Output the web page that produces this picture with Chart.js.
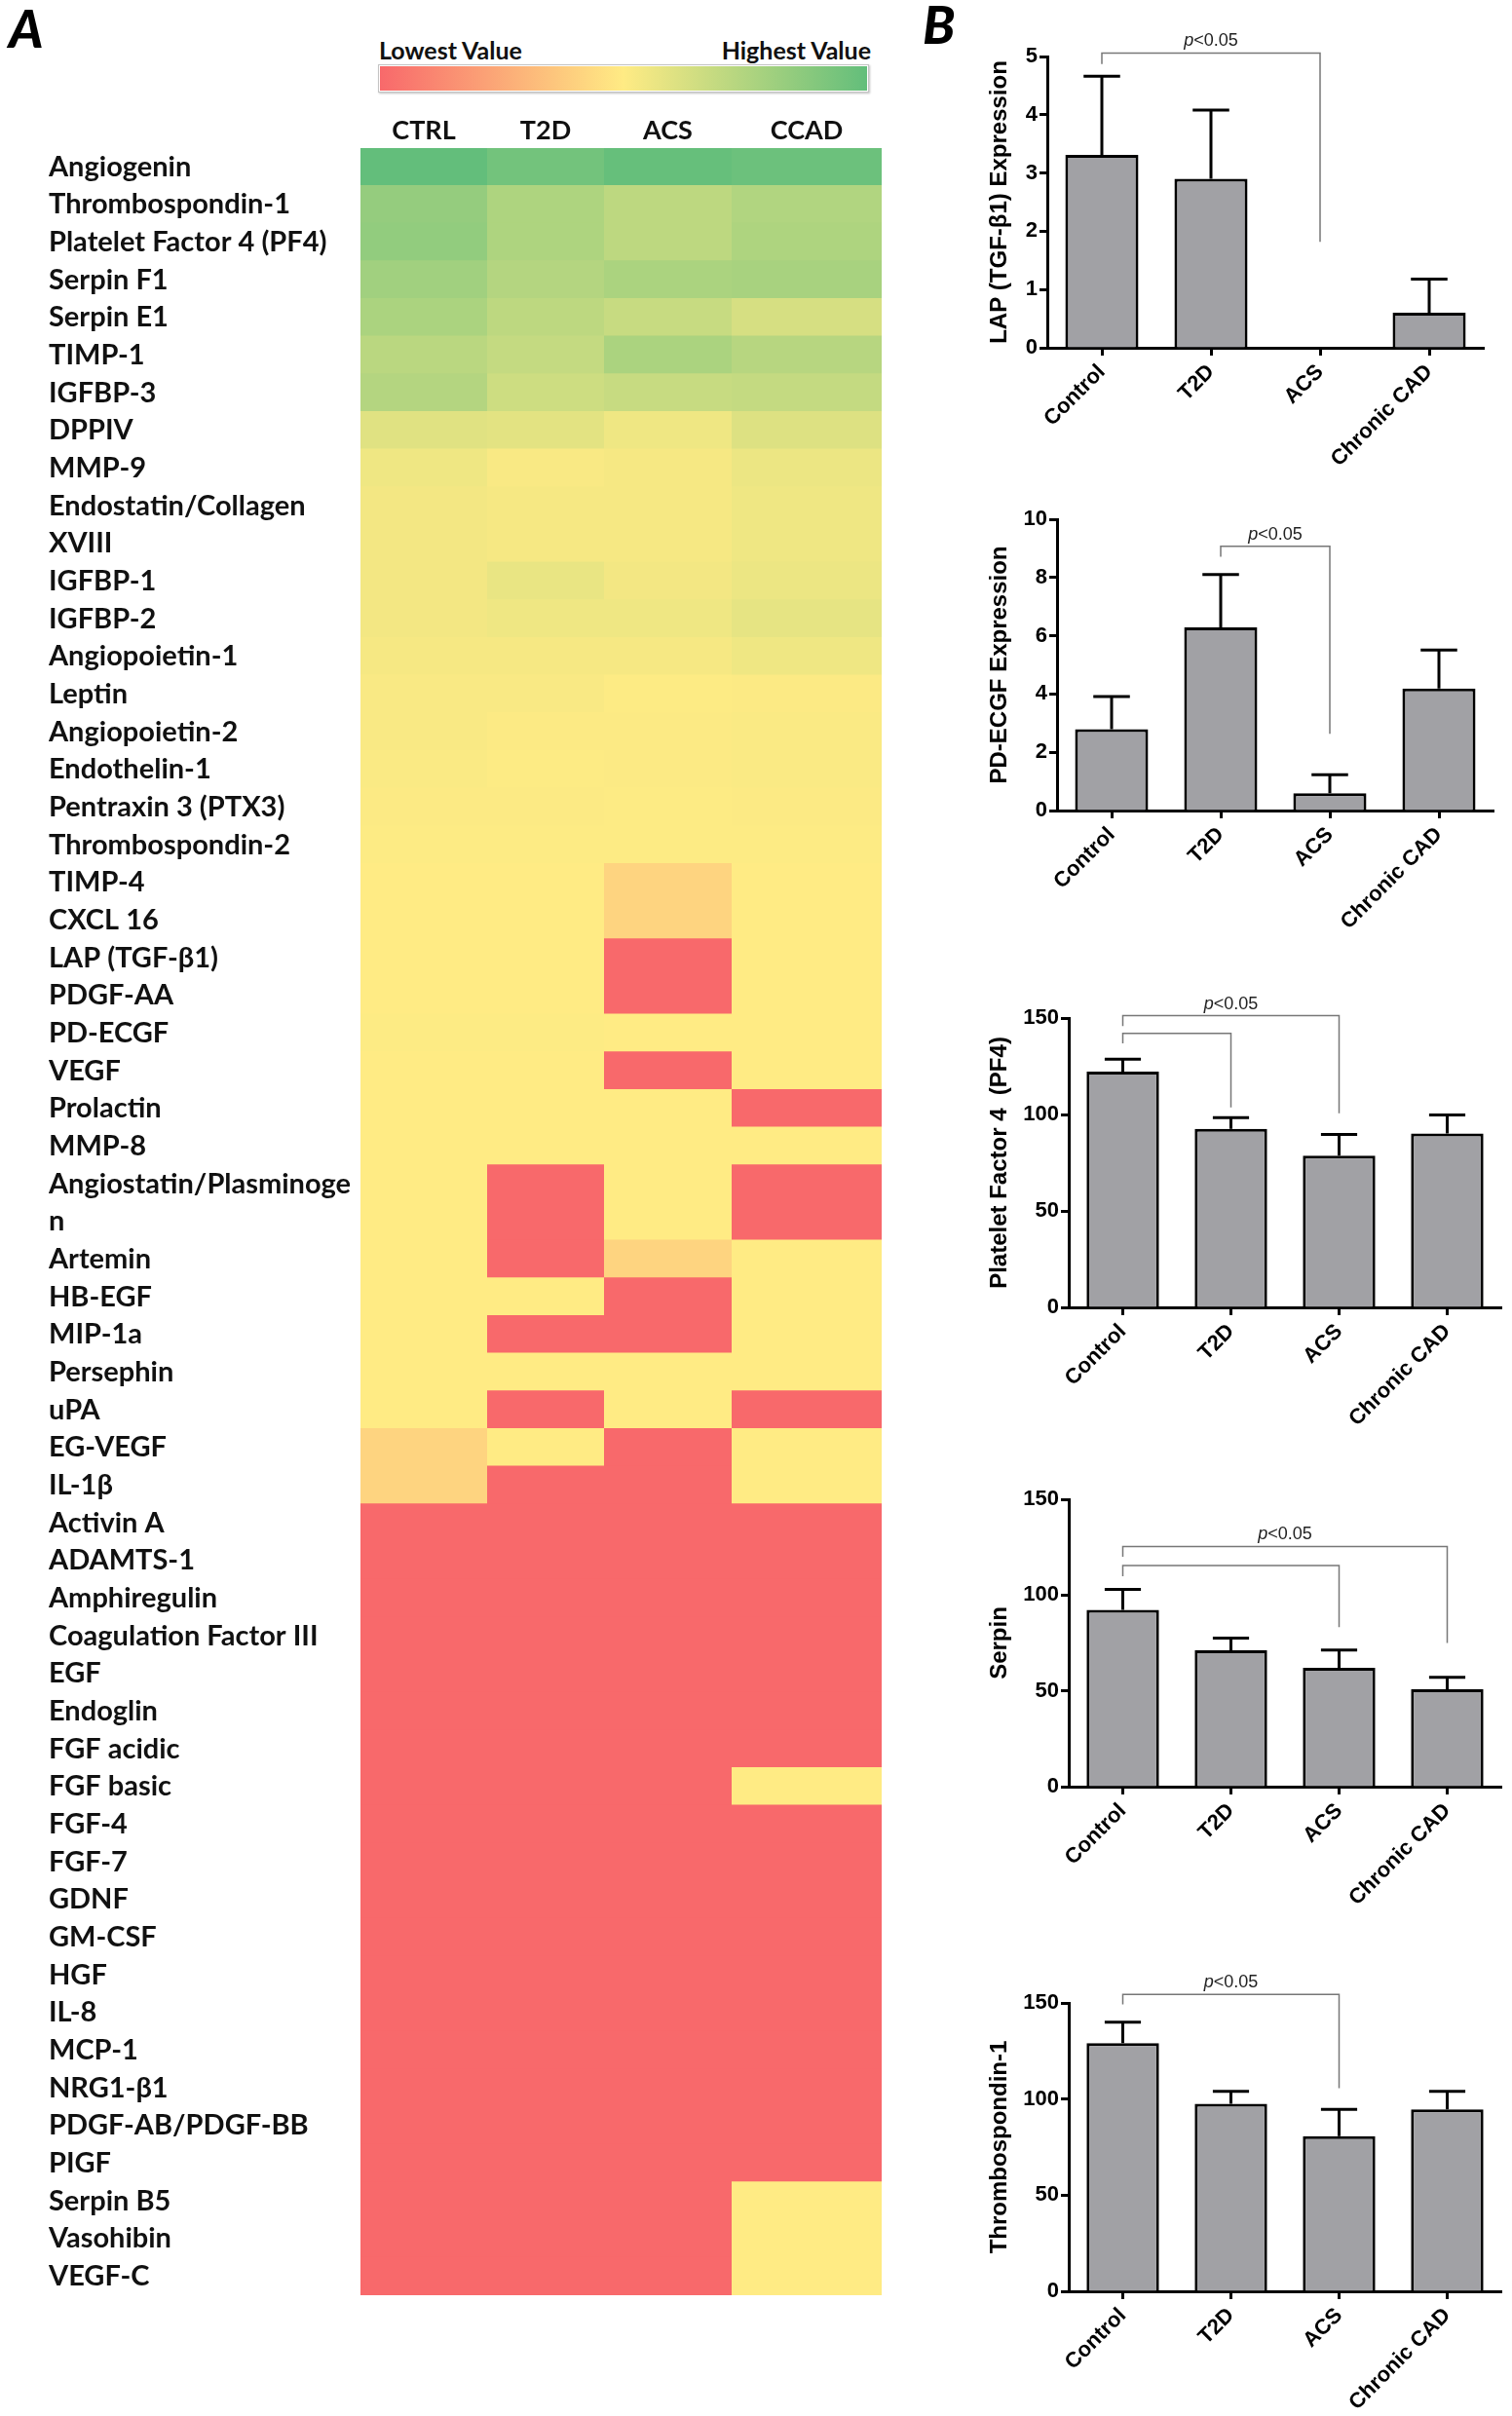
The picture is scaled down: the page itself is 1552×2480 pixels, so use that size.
<!DOCTYPE html>
<html>
<head>
<meta charset="utf-8">
<script src="https://cdn.jsdelivr.net/npm/chart.js@4.4.1/dist/chart.umd.min.js"></script>
<style>
  html, body { margin: 0; padding: 0; background: #fff; }
  body { position: relative; width: 1552px; height: 2480px; overflow: hidden; }
  canvas { position: absolute; }
  .tag { position: absolute; font: italic 900 54px Lato, sans-serif; line-height: 1; color: #000; }
  .scale-text { position: absolute; font: bold 25px Lato, sans-serif; line-height: 1; color: #111; }
  .scale-bar { position: absolute; left: 388px; top: 66px; width: 500px; height: 25px;
    border: 1px solid #c4c4c4; padding: 1px; box-shadow: 1px 1px 2px rgba(0,0,0,.25); }
  .scale-bar div { width: 100%; height: 100%;
    background: linear-gradient(to right, #f8696b, #ffeb84, #63be7b); }
</style>
</head>
<body>
<div class="tag" style="left:9px; top:2px;">A</div>
<div class="tag" style="left:947px; top:-2px;">B</div>
<div class="scale-text" style="left:389px; top:39px;">Lowest Value</div>
<div class="scale-text" style="right:658px; top:39px;">Highest Value</div>
<div class="scale-bar"><div></div></div>

<canvas id="heat"></canvas>
<canvas id="lap"></canvas>
<canvas id="pdecgf"></canvas>
<canvas id="pf4"></canvas>
<canvas id="serpin"></canvas>
<canvas id="tsp1"></canvas>

<script>
// ---------- Panel A: heat map ----------
const groupsA = ['CTRL', 'T2D', 'ACS', 'CCAD'];
const proteins = [
  'Angiogenin', 'Thrombospondin-1', 'Platelet Factor 4 (PF4)', 'Serpin F1', 'Serpin E1',
  'TIMP-1', 'IGFBP-3', 'DPPIV', 'MMP-9', 'Endostatin/Collagen\nXVIII',
  'IGFBP-1', 'IGFBP-2', 'Angiopoietin-1', 'Leptin', 'Angiopoietin-2',
  'Endothelin-1', 'Pentraxin 3 (PTX3)', 'Thrombospondin-2', 'TIMP-4', 'CXCL 16',
  'LAP (TGF-β1)', 'PDGF-AA', 'PD-ECGF', 'VEGF', 'Prolactin',
  'MMP-8', 'Angiostatin/Plasminoge\nn', 'Artemin', 'HB-EGF', 'MIP-1a',
  'Persephin', 'uPA', 'EG-VEGF', 'IL-1β', 'Activin A',
  'ADAMTS-1', 'Amphiregulin', 'Coagulation Factor III', 'EGF', 'Endoglin',
  'FGF acidic', 'FGF basic', 'FGF-4', 'FGF-7', 'GDNF',
  'GM-CSF', 'HGF', 'IL-8', 'MCP-1', 'NRG1-β1',
  'PDGF-AB/PDGF-BB', 'PIGF', 'Serpin B5', 'Vasohibin', 'VEGF-C'
];
// relative level on the colour scale: 0 = lowest value, 100 = highest value
const ctrlLevels = [
  100, 84, 85, 80, 77, 72, 74, 60, 55, 54,
  54, 54, 53, 52, 52, 51.5, 51, 50.5, 50, 50,
  50, 50, 50.5, 50, 50, 50, 50, 50, 50, 50,
  50, 50, 41, 41, 0, 0, 0, 0, 0, 0,
  0, 0, 0, 0, 0, 0, 0, 0, 0, 0,
  0, 0, 0, 0, 0
];
const t2dLevels = [
  95, 76, 76, 74, 71, 69, 66, 59, 52, 53,
  57, 55, 53, 52, 51, 50.5, 51, 50.5, 50, 50,
  50, 50, 50.5, 50, 50, 50, 0, 0, 50, 0,
  50, 0, 50, 0, 0, 0, 0, 0, 0, 0,
  0, 0, 0, 0, 0, 0, 0, 0, 0, 0,
  0, 0, 0, 0, 0
];
const acsLevels = [
  99, 71, 71, 77, 68, 77, 68, 55, 53, 53,
  54, 55, 53, 50.5, 51, 51, 50.5, 50.5, 41, 41,
  0, 0, 50, 0, 50, 50, 50, 41, 0, 0,
  50, 50, 0, 0, 0, 0, 0, 0, 0, 0,
  0, 0, 0, 0, 0, 0, 0, 0, 0, 0,
  0, 0, 0, 0, 0
];
const ccadLevels = [
  97, 75, 76, 78, 63, 73, 69, 61, 56, 55,
  56, 58, 55, 51, 51.5, 51.5, 51, 50.5, 50, 50,
  50, 50, 50, 50, 0, 50, 0, 50, 50, 50,
  50, 0, 50, 50, 0, 0, 0, 0, 0, 0,
  0, 50, 0, 0, 0, 0, 0, 0, 0, 0,
  0, 0, 50, 50, 50
];

// ---------- Panel B: bar charts (mean and upper error) ----------
const groupsB = ['Control', 'T2D', 'ACS', 'Chronic CAD'];
const lapMean = [3.31, 2.90, 0, 0.60];
const lapErr = [1.35, 1.18, 0, 0.58];
const pdecgfMean = [2.79, 6.29, 0.59, 4.19];
const pdecgfErr = [1.12, 1.81, 0.64, 1.32];
const pf4Mean = [122.2, 92.5, 78.7, 90.2];
const pf4Err = [6.4, 5.8, 11.0, 9.6];
const serpinMean = [92.3, 71.2, 62.0, 50.8];
const serpinErr = [10.7, 6.4, 9.3, 6.3];
const tsp1Mean = [129.1, 97.6, 80.7, 94.7];
const tsp1Err = [10.9, 6.4, 14.0, 9.3];
// significance brackets: group indices, height of the bracket, end of each leg
const lapBrackets = [{ from: 0, to: 2, top: 5.06, left: 4.87, right: 1.82 }];
const pdecgfBrackets = [{ from: 1, to: 2, top: 9.07, left: 8.71, right: 2.63 }];
const pf4Brackets = [
  { from: 0, to: 2, top: 151.2, left: 145.8, right: 100.6 },
  { from: 0, to: 1, top: 142.1, left: 136.9, right: 103.6 }
];
const serpinBrackets = [
  { from: 0, to: 3, top: 125.4, left: 120, right: 75 },
  { from: 0, to: 2, top: 115.4, left: 109.8, right: 83.2 }
];
const tsp1Brackets = [{ from: 0, to: 2, top: 154.4, left: 149.3, right: 105.7 }];

Chart.defaults.animation = false;
Chart.defaults.responsive = false;
Chart.defaults.events = [];

// Excel style 3-colour scale
function heatColor(v) {
  const lo = [248, 105, 107], mid = [255, 235, 132], hi = [99, 190, 123];
  const t = v / 100;
  const [a, b, f] = t < 0.5 ? [lo, mid, t * 2] : [mid, hi, (t - 0.5) * 2];
  return 'rgb(' + a.map((c, i) => Math.round(c + (b[i] - c) * f)).join(',') + ')';
}

// one heat map row per text line; two-line names share the same colour
const lineLabels = [];
const lineLevels = [[], [], [], []];
proteins.forEach((name, i) => {
  name.split('\n').forEach(part => {
    lineLabels.push(part);
    [ctrlLevels, t2dLevels, acsLevels, ccadLevels].forEach((lv, g) => lineLevels[g].push(lv[i]));
  });
});

const heatColWidths = [130, 120, 131, 154];
const heatColCenters = heatColWidths.map((w, i) =>
  heatColWidths.slice(0, i).reduce((s, x) => s + x, 0) + w / 2);
const heatTotal = heatColWidths.reduce((s, x) => s + x, 0);

const heatCanvas = document.getElementById('heat');
heatCanvas.width = 920;
heatCanvas.height = 2256;
heatCanvas.style.left = '0px';
heatCanvas.style.top = '100px';

new Chart(heatCanvas, {
  type: 'bar',
  data: {
    labels: lineLabels,
    datasets: groupsA.map((g, gi) => ({
      label: g,
      data: lineLevels[gi].map(() => heatColWidths[gi]),
      backgroundColor: lineLevels[gi].map(heatColor),
      borderWidth: 0,
      barPercentage: 1.04,
      categoryPercentage: 1
    }))
  },
  options: {
    indexAxis: 'y',
    layout: { padding: { left: 50, right: 15, top: 10, bottom: 0 } },
    plugins: { legend: { display: false }, tooltip: { enabled: false } },
    scales: {
      x: { type: 'linear', stacked: true, min: 0, max: heatTotal, display: false },
      xTop: {
        type: 'linear', position: 'top', min: 0, max: heatTotal,
        grid: { display: false, drawTicks: false }, border: { display: false },
        afterBuildTicks: s => { s.ticks = heatColCenters.map(v => ({ value: v })); },
        afterFit: s => { s.height = 42; s.paddingLeft = 0; s.paddingRight = 0; },
        ticks: {
          autoSkip: false, maxRotation: 0, padding: 2, color: '#111',
          font: { family: 'Lato', weight: 'bold', size: 27 },
          callback: (v, i) => groupsA[i]
        }
      },
      y: {
        type: 'category', stacked: true,
        grid: { display: false, drawTicks: false }, border: { display: false },
        afterFit: s => { s.width = 320; s.paddingTop = 0; s.paddingBottom = 0; },
        ticks: { autoSkip: false, crossAlign: 'far', padding: 0, color: '#111',
                 font: { family: 'Lato', weight: 'bold', size: 29 } }
      }
    }
  }
});

// ---------- bar chart helpers ----------
const errorBars = {
  id: 'errorBars',
  afterDatasetsDraw(chart, args, opts) {
    const ds = chart.data.datasets[0];
    const meta = chart.getDatasetMeta(0);
    const y = chart.scales.y;
    const ctx = chart.ctx;
    ctx.save();
    ctx.strokeStyle = '#000';
    ctx.lineWidth = 3;
    meta.data.forEach((bar, i) => {
      const err = opts.errors[i];
      if (!err) return;
      const yTop = y.getPixelForValue(ds.data[i] + err);
      const half = bar.width / 4;
      ctx.beginPath();
      ctx.moveTo(bar.x, bar.y);
      ctx.lineTo(bar.x, yTop);
      ctx.moveTo(bar.x - half, yTop);
      ctx.lineTo(bar.x + half, yTop);
      ctx.stroke();
    });
    ctx.restore();
  }
};

const pLabel = {
  id: 'pLabel',
  afterDatasetsDraw(chart, args, opts) {
    const b = opts.bracket;
    const xs = chart.scales.x;
    const x = (xs.getPixelForValue(b.from) + xs.getPixelForValue(b.to)) / 2;
    const y = chart.scales.y.getPixelForValue(b.top) - 7;
    const ctx = chart.ctx;
    ctx.save();
    ctx.fillStyle = '#222';
    ctx.textBaseline = 'alphabetic';
    ctx.textAlign = 'left';
    ctx.font = 'italic 18px "Liberation Sans"';
    const wp = ctx.measureText('p').width;
    ctx.font = '18px "Liberation Sans"';
    const wr = ctx.measureText('<0.05').width;
    const x0 = x - (wp + wr) / 2;
    ctx.font = 'italic 18px "Liberation Sans"';
    ctx.fillText('p', x0, y);
    ctx.font = '18px "Liberation Sans"';
    ctx.fillText('<0.05', x0 + wp, y);
    ctx.restore();
  }
};

function bracketSets(brackets) {
  return brackets.map(b => ({
    type: 'line',
    data: [
      { x: groupsB[b.from], y: b.left },
      { x: groupsB[b.from], y: b.top },
      { x: groupsB[b.to], y: b.top },
      { x: groupsB[b.to], y: b.right }
    ],
    borderColor: '#777',
    borderWidth: 1.5,
    pointRadius: 0,
    tension: 0,
    fill: false,
    clip: false
  }));
}

const axisFont = { family: 'Liberation Sans', weight: 'bold', size: 22 };

function barPanel(id, box, title, means, errors, brackets, max, step) {
  const canvas = document.getElementById(id);
  const left = 990, padTop = 40, xAxisH = 135;
  canvas.width = 1552 - left;
  canvas.height = padTop + (box.bottom - box.top) + xAxisH;
  canvas.style.left = left + 'px';
  canvas.style.top = (box.top - padTop) + 'px';

  new Chart(canvas, {
    type: 'bar',
    data: {
      labels: groupsB,
      datasets: [{
        type: 'bar',
        data: means,
        backgroundColor: '#a1a1a5',
        borderColor: '#000',
        borderWidth: 3,
        barPercentage: 0.67,
        categoryPercentage: 1
      }, ...bracketSets(brackets)]
    },
    options: {
      layout: { padding: { left: 22, right: 1552 - box.right, top: padTop, bottom: 0 } },
      plugins: {
        legend: { display: false },
        tooltip: { enabled: false },
        errorBars: { errors },
        pLabel: { bracket: brackets[0] }
      },
      scales: {
        x: {
          z: 1,
          grid: { drawOnChartArea: false, drawTicks: true, tickLength: 8, tickWidth: 3,
                  tickColor: '#000', offset: false },
          border: { display: true, width: 3, color: '#000' },
          afterFit: s => { s.height = xAxisH; },
          ticks: { autoSkip: false, minRotation: 45, maxRotation: 45, padding: 4,
                   color: '#000', font: axisFont }
        },
        y: {
          min: 0, max,
          grid: { drawOnChartArea: false, drawTicks: true, tickLength: 8, tickWidth: 3,
                  tickColor: '#000' },
          border: { display: true, width: 3, color: '#000' },
          afterFit: s => { s.width = box.axisX - left - 22; },
          ticks: { stepSize: step, padding: 2, color: '#000', font: axisFont },
          title: { display: true, text: title, color: '#000', padding: { top: 0, bottom: 0 },
                   font: { family: 'Liberation Sans', weight: 'bold', size: 24 } }
        }
      }
    },
    plugins: [errorBars, pLabel]
  });
}

barPanel('lap', { axisX: 1075, top: 58, bottom: 357, right: 1523 },
  'LAP (TGF-β1) Expression', lapMean, lapErr, lapBrackets, 5, 1);
barPanel('pdecgf', { axisX: 1085, top: 533, bottom: 832, right: 1533 },
  'PD-ECGF Expression', pdecgfMean, pdecgfErr, pdecgfBrackets, 10, 2);
barPanel('pf4', { axisX: 1097, top: 1045, bottom: 1342, right: 1541 },
  'Platelet Factor 4  (PF4)', pf4Mean, pf4Err, pf4Brackets, 150, 50);
barPanel('serpin', { axisX: 1097, top: 1539, bottom: 1834, right: 1541 },
  'Serpin', serpinMean, serpinErr, serpinBrackets, 150, 50);
barPanel('tsp1', { axisX: 1097, top: 2056, bottom: 2352, right: 1541 },
  'Thrombospondin-1', tsp1Mean, tsp1Err, tsp1Brackets, 150, 50);
</script>
</body>
</html>
